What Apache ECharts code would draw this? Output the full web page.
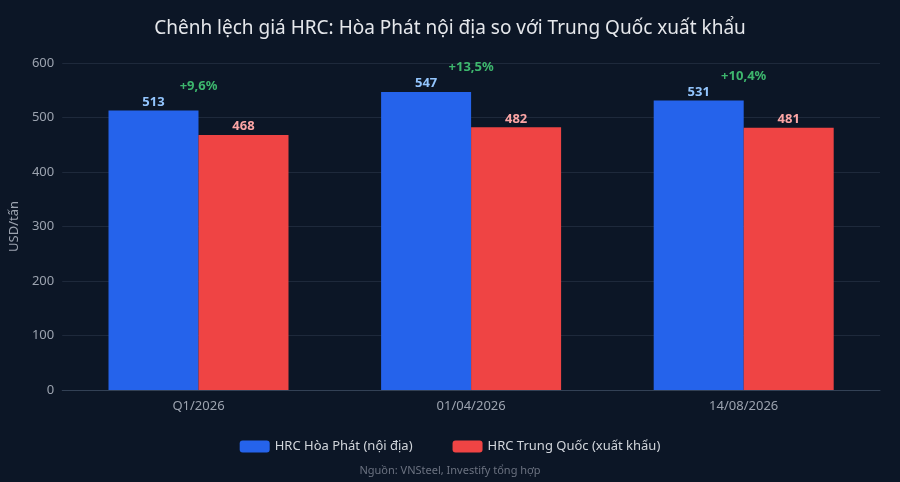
<!DOCTYPE html>
<html><head><meta charset="utf-8">
<script src="https://cdn.jsdelivr.net/npm/echarts@6/dist/echarts.min.js"></script>
<style>html,body{margin:0;background:#0c1626}#c{width:900px;height:482px}</style>
</head><body><div id="c"></div>
<script>
const categories = ['Q1/2026','01/04/2026','14/08/2026'];
const hoaPhat = [513, 547, 531];
const trungQuoc = [468, 482, 481];
const diffLabels = ['+9,6%','+13,5%','+10,4%'];
const yTicks = [0,100,200,300,400,500,600];

const chart = echarts.init(document.getElementById('c'));
const font = 'Noto Sans';
chart.setOption({
  backgroundColor:'#0c1626',
  textStyle:{fontFamily:font},
  title:{text:'Chênh lệch giá HRC: Hòa Phát nội địa so với Trung Quốc xuất khẩu',left:'center',top:14,
    textStyle:{color:'#e5e7eb',fontSize:19,fontWeight:'normal',fontFamily:font}},
  graphic:[{type:'text',left:'center',top:465,style:{text:'Nguồn: VNSteel, Investify tổng hợp',fill:'#6b7280',fontSize:11,fontFamily:font}}],
  legend:{bottom:24,itemWidth:30,itemHeight:12,itemGap:40,textStyle:{color:'#d1d5db',fontSize:13},data:['HRC Hòa Phát (nội địa)','HRC Trung Quốc (xuất khẩu)']},
  grid:{left:62,right:20,top:63,bottom:92},
  xAxis:{type:'category',data:categories,axisTick:{show:false},
    axisLine:{lineStyle:{color:'#334155'}},axisLabel:{color:'#9ca3af',fontSize:13,margin:10}},
  yAxis:{type:'value',min:yTicks[0],max:yTicks[yTicks.length-1],interval:100,name:'USD/tấn',nameLocation:'middle',nameGap:38,
    nameTextStyle:{color:'#9ca3af',fontSize:13},axisLabel:{color:'#9ca3af',fontSize:13},
    splitLine:{lineStyle:{color:'#1e293b'}}},
  series:[
    {name:'HRC Hòa Phát (nội địa)',type:'bar',data:hoaPhat,barWidth:90,barGap:'0%',itemStyle:{color:'#2563eb'},
      label:{show:true,position:'top',color:'#93c5fd',fontWeight:'bold',fontSize:13,distance:2}},
    {name:'HRC Trung Quốc (xuất khẩu)',type:'bar',data:trungQuoc,barWidth:90,itemStyle:{color:'#ef4444'},
      label:{show:true,position:'top',color:'#fca5a5',fontWeight:'bold',fontSize:13,distance:2}},
    {type:'scatter',data:hoaPhat,symbolSize:0,silent:true,
      label:{show:true,position:'top',distance:18,color:'#4ade80',fontWeight:'bold',fontSize:13,
        formatter:p=>diffLabels[p.dataIndex]}}
  ]
});
</script></body></html>
